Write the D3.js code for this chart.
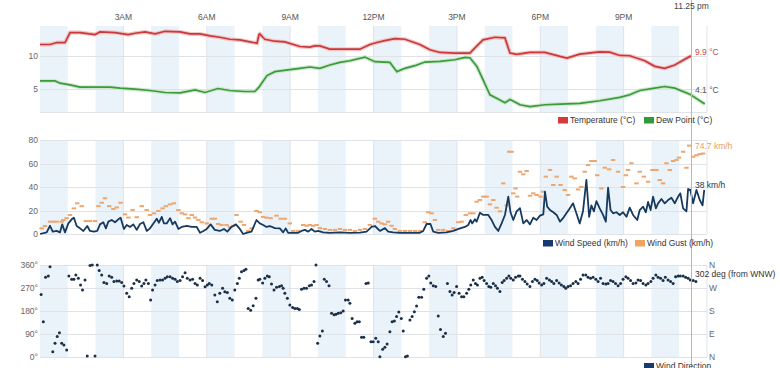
<!DOCTYPE html>
<html><head><meta charset="utf-8">
<script src="https://cdn.jsdelivr.net/npm/d3@7/dist/d3.min.js"></script>
<style>body{margin:0;background:#fff;} text{font-family:"Liberation Sans",Arial,sans-serif;}</style>
</head><body><svg id="c" width="780" height="368"></svg>
<script>
// ---- data (hours since midnight) ----
const hourTicks=[3,6,9,12,15,18,21];
const hourLabels=["3AM","6AM","9AM","12PM","3PM","6PM","9PM"];
const nowHour=23.417, nowLabel="11.25 pm";

const tempTimes=[0,0.36,0.61,0.9,1.08,1.44,1.98,2.16,2.7,3.17,3.42,3.78,4.14,4.5,5.04,5.4,5.76,6.12,6.47,6.83,7.19,7.55,7.81,7.88,7.91,8.09,8.45,8.81,9.35,9.71,9.89,10.07,10.43,10.97,11.51,11.87,12.12,12.41,12.77,13.13,13.67,14.03,14.39,14.93,15.47,15.65,15.94,16.37,16.73,16.91,17.16,17.27,17.63,18.17,18.71,18.96,19.42,20.14,20.5,20.86,21.22,21.76,22.12,22.48,22.84,23.38,23.45];
const tempValues=[11.7,11.7,12.0,12.0,13.5,13.5,13.2,13.6,13.5,13.2,13.4,13.6,13.3,13.7,13.6,13.3,13.3,13.0,12.8,12.5,12.4,12.1,11.9,13.2,13.3,12.5,12.2,12.1,11.4,11.3,11.5,11.5,11.0,11.0,11.0,11.7,12.0,12.3,12.6,12.5,11.7,10.9,10.5,10.4,10.4,11.2,12.4,12.8,12.7,10.4,10.2,10.3,10.5,10.5,9.9,9.65,10.25,10.6,10.55,10.05,10.0,9.24,8.4,8.1,8.6,9.9,9.9];

const dewTimes=[0,0.54,0.72,1.08,1.44,1.98,2.52,2.88,3.42,3.96,4.5,5.04,5.58,5.94,6.4,6.83,7.37,7.73,7.88,8.02,8.17,8.45,8.99,9.35,9.71,10.07,10.43,10.79,11.15,11.69,12.05,12.59,12.84,13.13,13.49,13.85,14.39,14.93,15.29,15.47,15.72,15.94,16.19,16.55,16.73,16.91,17.09,17.27,17.63,18.17,18.71,19.42,20.14,20.86,21.22,21.58,22.12,22.48,22.84,23.38,23.92];
const dewValues=[6.2,6.2,5.86,5.6,5.25,5.25,5.25,5.1,4.95,4.75,4.45,4.4,4.85,4.45,5.05,4.75,4.6,4.6,5.25,6.1,7.0,7.6,7.9,8.1,8.3,8.1,8.6,9.0,9.25,9.8,9.1,9.0,7.6,8.1,8.5,9.05,9.15,9.4,9.75,9.7,8.4,6.4,4.1,3.33,2.9,3.4,3.0,2.6,2.3,2.6,2.7,2.8,3.2,3.7,4.1,4.75,5.1,5.35,5.1,4.2,2.7];

const speedTimes=[0,0.24,0.36,0.46,0.6,0.72,0.8,0.9,1.02,1.14,1.22,1.32,1.44,1.56,1.7,1.8,1.94,2.06,2.16,2.28,2.37,2.46,2.58,2.7,2.82,2.9,3.02,3.12,3.24,3.36,3.48,3.6,3.72,3.84,3.96,4.08,4.2,4.28,4.38,4.46,4.56,4.68,4.77,4.86,4.98,5.1,5.28,5.46,5.64,5.76,5.88,6.0,6.14,6.29,6.47,6.62,6.74,6.89,7.05,7.19,7.31,7.43,7.61,7.79,7.91,8.03,8.15,8.27,8.45,8.63,8.75,8.84,8.93,9.11,9.29,9.41,9.53,9.65,9.77,9.89,10.01,10.19,10.43,10.79,11.15,11.51,11.75,11.93,12.05,12.23,12.41,12.53,12.71,12.95,13.31,13.67,13.79,13.91,14.05,14.15,14.33,14.63,14.87,15.11,15.29,15.41,15.49,15.55,15.65,15.71,15.83,15.95,16.13,16.25,16.37,16.49,16.61,16.73,16.85,16.93,17.03,17.15,17.27,17.39,17.51,17.63,17.75,17.87,17.99,18.11,18.17,18.25,18.35,18.47,18.59,18.71,18.82,18.94,19.06,19.18,19.3,19.42,19.54,19.66,19.76,19.84,19.93,20.02,20.14,20.26,20.36,20.44,20.53,20.62,20.74,20.86,20.98,21.1,21.22,21.34,21.49,21.58,21.7,21.8,21.88,21.97,22.06,22.16,22.24,22.36,22.48,22.6,22.72,22.84,22.96,23.04,23.14,23.26,23.32,23.4,23.5,23.62,23.74,23.84,23.9];
const speedValues=[0,1.4,7,2,2.6,1.4,8.2,1.4,9,12.5,13.9,6.8,4.8,2.6,6.8,2.6,2,2.6,8.2,10,4.8,10.5,11.9,10,12.5,13.9,4.3,7.7,6,8.2,3.5,8.5,10,2.6,4.8,9,13,9.6,14.6,9,9,13.5,8.2,10.5,4.3,6,7,6,6,1,2.6,4.3,8.2,3.5,2.6,4.3,2,6,8.2,4.3,0,1,2,11.9,9,7.7,6,6.8,5,4.8,1.4,4.8,1,1,1,2.6,3.5,2,4.3,2,2.6,1.4,1,1.4,1,1.2,2,6,6.8,2.6,5,2,1.4,1,1,1,2.6,8.5,8.5,2,1,1.4,2.6,4.8,6,7.7,11.9,9,12.5,10.5,18.1,16.2,16.2,11.9,6,2.6,9,16.2,31.8,18.5,11.9,19.3,22,9,11.9,8.2,13.9,11.9,15.6,16.7,36,23.3,20.4,18.5,16.2,10.5,13.5,17.6,21.8,26.1,17.6,9,19.6,46,14.6,24.4,19.3,28,21.8,16.2,10.5,39.4,20.4,17.6,18.5,16.2,18.5,14.6,22.4,16.2,11.9,20.4,23.3,18.5,27.3,20.4,31.8,21.8,26.1,29.8,26.1,28.9,30.8,26.1,31.8,34.6,21.8,19.3,38.3,37.5,26.1,37.5,28.9,24.4,37.5];

const gustTimes=[0.06,0.18,0.36,0.48,0.6,0.78,0.84,0.96,1.08,1.22,1.34,1.5,1.65,1.8,1.98,2.1,2.22,2.34,2.49,2.64,2.76,2.9,3.06,3.18,3.33,3.48,3.66,3.84,3.96,4.1,4.26,4.41,4.53,4.68,4.82,4.98,5.1,5.22,5.34,5.46,5.58,5.7,5.82,6.0,6.18,6.29,6.41,6.53,6.71,6.83,6.95,7.07,7.22,7.34,7.49,7.61,7.79,7.91,8.03,8.15,8.3,8.51,8.66,8.81,8.99,9.11,9.29,9.47,9.59,9.71,9.83,9.95,10.07,10.25,10.43,10.61,10.79,10.97,11.15,11.33,11.51,11.69,11.87,12.05,12.17,12.29,12.41,12.53,12.65,12.77,12.95,13.13,13.31,13.49,13.67,13.85,13.97,14.09,14.21,14.33,14.51,14.69,14.87,15.05,15.17,15.32,15.47,15.59,15.71,15.83,15.95,16.07,16.19,16.31,16.43,16.55,16.67,16.79,16.88,16.97,17.03,17.11,17.17,17.27,17.39,17.51,17.63,17.75,17.87,18.01,18.11,18.2,18.35,18.47,18.59,18.73,18.88,19.0,19.12,19.24,19.36,19.48,19.6,19.72,19.84,19.96,20.05,20.2,20.32,20.48,20.62,20.8,20.98,21.08,21.16,21.28,21.46,21.58,21.73,21.88,22.04,22.18,22.3,22.42,22.54,22.66,22.78,22.9,22.99,23.14,23.26,23.36,23.5,23.62,23.74,23.86];
const gustValues=[4.8,6.8,10.5,10.5,10.5,10.5,11.9,13.5,16.2,21.8,26.1,23.7,11,11,11,23.7,26.6,30.4,23.7,21.3,22.6,26.6,16.7,14,20.4,14.3,23.7,20.4,16.2,17.6,19.6,21.8,23.7,25.2,26.1,20.4,17.6,16.7,13.5,16.2,14,11.9,10,9,13,13,8.5,7.7,7.7,6,7,16.2,10.5,7.7,2.6,4.8,19.6,18.5,14.6,13.9,13.5,15.6,13,13,9,2.6,2.6,7.7,7,7.7,7,7.7,5,4.3,3.5,3.5,4.3,3.5,3.5,2.6,3.5,4.3,7.7,13,10.5,9,8.2,10.5,7,4.3,2.6,2.6,2.6,2.6,2.6,10,18.5,17.6,11.9,3.5,3.5,2.6,4.8,10,10.5,16.2,17.6,17.6,27.5,28.9,31.8,31.8,25.2,28.9,22.4,19.3,43.1,24.4,70,70,34.6,38.8,31.8,53,50.8,53.6,32.6,34.6,33.2,31.8,36,48.8,54.5,41.7,48.8,41.7,37.4,33.2,48.8,47.4,37.9,40,53,58.7,62.1,62.1,50,38.8,56.4,55,63,53,40,50,54.5,60.2,43.1,53,48.8,44.5,54.5,54.5,45.9,43.1,60.2,54.5,62.1,63,65,70,56.4,75.2,65.8,67,68,68.5];

const dirTimes=[0.04,0.12,0.2,0.3,0.36,0.46,0.54,0.62,0.7,0.78,0.86,0.96,1.04,1.14,1.22,1.29,1.38,1.46,1.53,1.62,1.7,1.8,1.88,1.98,2.06,2.13,2.22,2.3,2.4,2.49,2.58,2.66,2.76,2.85,2.94,3.02,3.12,3.21,3.3,3.38,3.48,3.57,3.66,3.74,3.81,3.9,3.98,4.05,4.14,4.22,4.32,4.41,4.5,4.58,4.68,4.77,4.86,4.94,5.04,5.13,5.22,5.3,5.4,5.49,5.58,5.66,5.76,5.85,5.94,6.02,6.09,6.18,6.29,6.38,6.47,6.57,6.65,6.74,6.83,6.92,7.01,7.1,7.17,7.25,7.34,7.41,7.49,7.58,7.67,7.77,7.85,7.91,8.01,8.09,8.18,8.25,8.33,8.42,8.51,8.61,8.69,8.75,8.81,8.9,8.99,9.09,9.17,9.26,9.33,9.41,9.5,9.59,9.69,9.77,9.86,9.93,9.99,10.07,10.16,10.23,10.31,10.4,10.49,10.58,10.65,10.73,10.82,10.91,10.99,11.09,11.15,11.23,11.33,11.41,11.49,11.57,11.65,11.73,11.81,11.91,11.99,12.08,12.17,12.23,12.33,12.41,12.49,12.59,12.67,12.75,12.83,12.91,13.0,13.07,13.15,13.22,13.31,13.39,13.47,13.55,13.63,13.73,13.81,13.91,13.99,14.06,14.15,14.24,14.33,14.41,14.51,14.59,14.66,14.75,14.83,14.9,14.99,15.08,15.17,15.25,15.35,15.43,15.5,15.59,15.67,15.74,15.83,15.91,15.98,16.07,16.15,16.22,16.31,16.39,16.46,16.55,16.63,16.7,16.79,16.87,16.94,17.03,17.11,17.21,17.27,17.36,17.45,17.53,17.63,17.72,17.81,17.89,17.96,18.05,18.13,18.23,18.33,18.41,18.49,18.59,18.68,18.76,18.85,18.92,19.0,19.09,19.18,19.28,19.36,19.45,19.54,19.64,19.72,19.81,19.9,20.0,20.08,20.17,20.26,20.36,20.44,20.53,20.62,20.71,20.8,20.89,20.98,21.08,21.16,21.25,21.34,21.44,21.52,21.61,21.7,21.8,21.88,21.98,22.06,22.16,22.24,22.33,22.42,22.5,22.6,22.69,22.78,22.87,22.96,23.04,23.14,23.23,23.32,23.4,23.5,23.6];
const dirValues=[245,138,312,317,353,21,54,80,95,54,47,27,317,304,304,321,308,282,262,301,4,358,360,4,360,338,321,292,288,317,312,295,297,297,292,278,249,236,269,288,301,295,278,288,301,288,223,262,282,299,301,301,308,314,314,308,304,295,299,314,330,308,301,304,288,282,308,299,275,282,288,282,243,216,249,269,255,252,230,223,262,288,308,334,338,343,190,183,201,230,301,304,290,308,317,314,286,262,273,276,279,269,249,230,203,194,190,190,186,265,269,269,279,282,295,360,54,82,102,304,295,279,171,165,167,171,173,180,223,223,210,151,132,138,138,77,77,288,290,60,60,73,60,1,30,38,51,99,138,141,158,176,151,102,1,4,145,158,177,200,234,234,265,308,317,290,279,276,160,108,80,93,288,256,243,252,276,249,236,236,249,265,282,301,288,282,308,312,299,288,276,273,288,279,269,256,292,299,308,317,308,301,312,317,317,304,295,286,276,295,304,299,290,282,288,308,301,295,288,299,290,282,276,269,276,279,288,295,288,304,321,321,312,308,312,304,295,308,288,286,288,299,295,288,279,288,304,314,308,299,288,290,301,299,288,282,288,295,308,321,312,308,299,312,301,295,288,314,317,317,317,312,308,301,299,295];

const tempTicks=[5,10], windTicks=[0,20,40,60,80];
const dirTicks=[0,90,180,270,360], dirTickLabels=["0°","90°","180°","270°","360°"];
const compassLabels=["N","E","S","W","N"];
const labels={temp:"9.9 °C",dew:"4.1 °C",gust:"74.7 km/h",speed:"38 km/h",dir:"302 deg (from WNW)"};

// ---- drawing ----
const svg=d3.select("#c");
const x=d3.scaleLinear().domain([0,24]).range([40,707]);
const panels=[
  {y:d3.scaleLinear().domain([1.5,14.5]).range([112,26])},
  {y:d3.scaleLinear().domain([0,80]).range([234,140])},
  {y:d3.scaleLinear().domain([0,360]).range([357,265])}
];
const band="#ebf3fa", grid="#dfe3e8", axisText="#666";

panels.forEach(p=>{
  const [y0,y1]=p.y.range();
  const g=svg.append("g");
  g.selectAll("rect.band").data(d3.range(0,24,2)).join("rect")
    .attr("x",d=>x(d)).attr("width",d=>x(d+1)-x(d))
    .attr("y",y1).attr("height",y0-y1).attr("fill",band);
  g.selectAll("line.v").data(hourTicks.concat([24])).join("line")
    .attr("x1",d=>x(d)).attr("x2",d=>x(d)).attr("y1",y1).attr("y2",y0)
    .attr("stroke",grid).attr("stroke-width",1);
  p.g=g;
});

function hgrid(p,ticks,labs){
  const g=p.g;
  g.selectAll("line.h").data(ticks).join("line")
    .attr("x1",40).attr("x2",707).attr("y1",d=>Math.round(p.y(d))+0.5).attr("y2",d=>Math.round(p.y(d))+0.5)
    .attr("stroke",grid);
  g.selectAll("text.t").data(ticks).join("text")
    .attr("x",38).attr("y",d=>p.y(d)+3).attr("text-anchor","end")
    .attr("font-size",8.5).attr("fill",axisText).text((d,i)=>labs?labs[i]:d);
}
hgrid(panels[0],tempTicks);
panels[0].g.append("line").attr("x1",40).attr("x2",707).attr("y1",112.5).attr("y2",112.5).attr("stroke",grid);
hgrid(panels[1],windTicks);
hgrid(panels[2],dirTicks,dirTickLabels);
panels[2].g.selectAll("text.c").data(dirTicks).join("text")
  .attr("x",709).attr("y",d=>panels[2].y(d)+3).attr("font-size",8.5).attr("fill",axisText)
  .text((d,i)=>compassLabels[i]);

svg.selectAll("text.hr").data(hourTicks).join("text")
  .attr("x",d=>x(d)).attr("y",20).attr("text-anchor","middle").attr("font-size",8.5).attr("fill","#555")
  .text((d,i)=>hourLabels[i]);

const yT=panels[0].y, yW=panels[1].y, yD=panels[2].y;
const zip=(t,v)=>t.map((d,i)=>[d,v[i]]);
const line=(ys)=>d3.line().x(d=>x(d[0])).y(d=>ys(d[1]));
svg.append("path").datum(zip(tempTimes,tempValues)).attr("d",line(yT)).attr("fill","none")
  .attr("stroke","#f3c4c4").attr("stroke-width",4);
svg.append("path").datum(zip(tempTimes,tempValues)).attr("d",line(yT)).attr("fill","none")
  .attr("stroke","#c9393c").attr("stroke-width",1.7);
svg.append("path").datum(zip(dewTimes,dewValues)).attr("d",line(yT)).attr("fill","none")
  .attr("stroke","#cfe8cf").attr("stroke-width",4);
svg.append("path").datum(zip(dewTimes,dewValues)).attr("d",line(yT)).attr("fill","none")
  .attr("stroke","#3b9a3b").attr("stroke-width",1.7);

svg.selectAll("rect.gust").data(zip(gustTimes,gustValues)).join("rect")
  .attr("x",d=>x(d[0])-2.2).attr("y",d=>yW(d[1])-1).attr("width",4.4).attr("height",2)
  .attr("fill","#eea66e");
svg.append("path").datum(zip(speedTimes,speedValues)).attr("d",line(yW)).attr("fill","none")
  .attr("stroke","#163a5f").attr("stroke-width",1.8).attr("stroke-linejoin","round");

svg.selectAll("circle.dir").data(zip(dirTimes,dirValues)).join("circle")
  .attr("cx",d=>x(d[0])).attr("cy",d=>yD(d[1])).attr("r",1.5).attr("fill","#1a2f48");

const cx=Math.round(x(nowHour))+0.5;
svg.append("line").attr("x1",cx).attr("x2",cx).attr("y1",0).attr("y2",368).attr("stroke","#d2b48c").attr("stroke-width",1);
svg.append("text").attr("x",cx).attr("y",9).attr("text-anchor","middle").attr("font-size",8.5).attr("fill","#444").text(nowLabel);

const lab=(t,yy,c)=>svg.append("text").attr("x",695).attr("y",yy).attr("font-size",8.5).attr("fill",c).text(t);
lab(labels.temp,55,"#c0504d");
lab(labels.dew,93,"#555");
lab(labels.gust,149,"#e8a060");
lab(labels.speed,188,"#1f3350");
lab(labels.dir,277,"#333");

function legend(items,y){
  items.forEach(it=>{
    svg.append("rect").attr("x",it.x).attr("y",y-6).attr("width",10).attr("height",6.5).attr("fill",it.c);
    svg.append("text").attr("x",it.x+12).attr("y",y).attr("font-size",8.5).attr("fill","#333").text(it.t);
  });
}
legend([{x:558,c:"#d43a3a",t:"Temperature (°C)"},{x:644,c:"#2f9a3a",t:"Dew Point (°C)"}],123);
legend([{x:543,c:"#163a6f",t:"Wind Speed (km/h)"},{x:635,c:"#f0a462",t:"Wind Gust (km/h)"}],246);
legend([{x:644,c:"#163a6f",t:"Wind Direction"}],369);
</script></body></html>
